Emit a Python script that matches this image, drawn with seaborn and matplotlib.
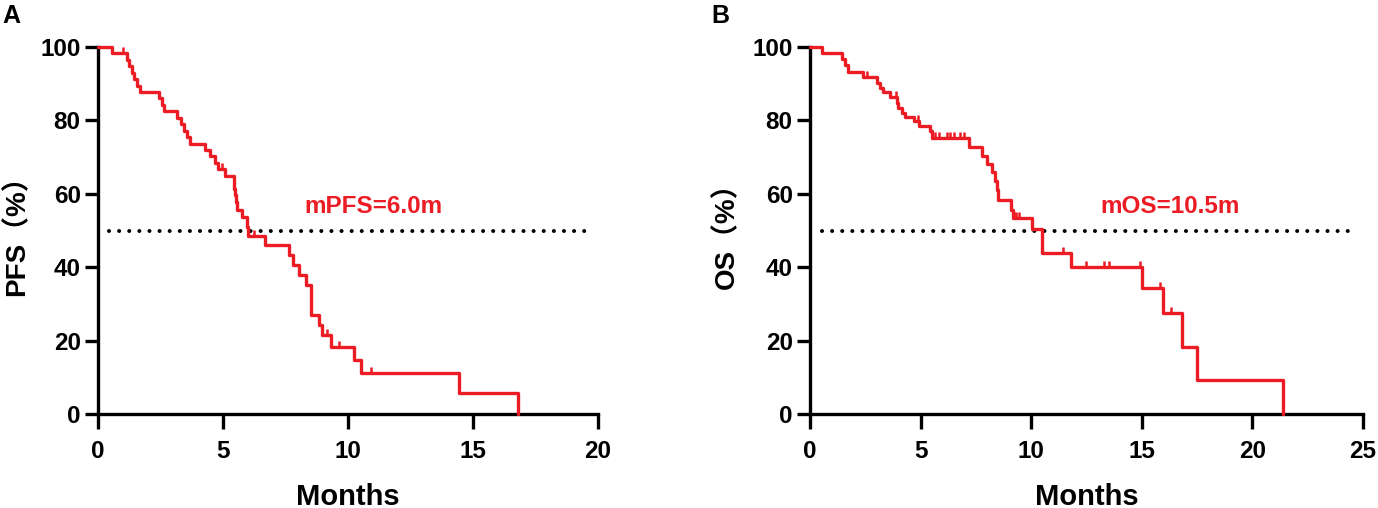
import numpy as np
import pandas as pd
import matplotlib
matplotlib.use('agg')
import matplotlib.pyplot as plt
import seaborn as sns

# Kaplan-Meier steps (months, % surviving after the event)
pfs_time = [0, 0.55, 1.15, 1.25, 1.35, 1.45, 1.55, 1.68, 2.42, 2.55, 2.65, 3.15, 3.30, 3.45,
            3.55, 3.69, 4.29, 4.49, 4.69, 4.80, 5.09, 5.42, 5.47, 5.52, 5.56, 5.75, 5.96, 6.00,
            6.69, 7.63, 7.80, 8.03, 8.30, 8.50, 8.83, 8.97, 9.30, 10.23, 10.50, 14.44, 16.80]
pfs_surv = [100, 98.3, 96.5, 94.7, 93.0, 91.2, 89.5, 87.7, 86.0, 84.2, 82.5, 80.7, 78.9, 77.2,
            75.4, 73.7, 71.9, 70.2, 68.4, 66.7, 64.9, 61.4, 59.6, 57.9, 55.6, 53.6, 51.0, 48.5,
            46.0, 43.3, 40.6, 37.9, 35.1, 27.0, 24.3, 21.5, 18.3, 14.7, 11.1, 5.6, 0]
pfs_censor = [1.01, 4.96, 6.23, 9.16, 9.63, 10.90]

os_time = [0, 0.53, 1.43, 1.58, 1.70, 2.41, 3.02, 3.17, 3.32, 3.62, 3.92, 4.00, 4.15, 4.30,
           4.68, 4.95, 5.43, 5.51, 7.20, 7.76, 7.99, 8.21, 8.36, 8.45, 8.52, 9.10, 9.16,
           10.03, 10.48, 11.79, 15.01, 15.94, 16.80, 17.50, 21.40]
os_surv = [100, 98.3, 96.6, 95.0, 93.3, 91.7, 90.1, 88.9, 87.8, 86.5, 84.8, 83.3, 81.9, 81.0,
           79.8, 78.5, 77.0, 75.1, 72.8, 70.2, 68.2, 66.0, 63.5, 60.9, 58.3, 55.6, 53.3,
           50.4, 43.9, 40.1, 34.4, 27.5, 18.3, 9.2, 0]
os_censor = [2.56, 3.89, 4.90, 5.66, 5.85, 6.18, 6.33, 6.49, 6.79, 6.94, 9.22, 9.32, 9.45,
             11.46, 12.49, 13.27, 13.50, 14.93, 15.84, 16.32]

RED = '#ec1c24'

sns.set_theme(style='ticks')
plt.rcParams['font.family'] = ['Liberation Sans', 'Noto Sans CJK SC', 'DejaVu Sans']
plt.rcParams['font.weight'] = 'bold'
plt.rcParams['axes.labelweight'] = 'bold'
for key in ('text.color', 'axes.labelcolor', 'xtick.color', 'ytick.color'):
    plt.rcParams[key] = 'black'

fig = plt.figure(figsize=(13.78, 5.08), dpi=100)
ax1 = fig.add_axes([98 / 1378, 94 / 508, 500 / 1378, 367 / 508])
ax2 = fig.add_axes([810 / 1378, 94 / 508, 553 / 1378, 367 / 508])


def km_panel(ax, t, s, cens, xmax, ref_span, label, label_x, ylab, ylab_x):
    df = pd.DataFrame({'t': t, 's': s})
    sns.lineplot(data=df, x='t', y='s', drawstyle='steps-post', estimator=None,
                 color=RED, lw=2.4, ax=ax, clip_on=False, zorder=3)
    idx = np.searchsorted(t, cens, side='right') - 1
    cy = np.asarray(s)[idx]
    sns.scatterplot(x=cens, y=cy, marker=[(0, 0), (0, 1)], s=80, color=RED,
                    edgecolor=RED, linewidth=1.8, ax=ax, clip_on=False, zorder=3)
    ax.plot(ref_span, [50, 50], color='black', lw=2.9, ls=(0, (0.01, 2.5)),
            dash_capstyle='round')
    ax.text(label_x, 56.5, label, color=RED, fontsize=17.5, fontweight='bold',
            ha='center', va='center')
    ax.set_xlim(0, xmax)
    ax.set_ylim(0, 100)
    ax.set_xticks(range(0, xmax + 1, 5))
    ax.set_yticks(range(0, 101, 20))
    sns.despine(ax=ax)
    for sp in ('left', 'bottom'):
        ax.spines[sp].set_linewidth(2.4)
        ax.spines[sp].set_color('black')
    ax.tick_params(width=2.4, labelsize=17.5, colors='black')
    ax.tick_params(axis='x', length=11, pad=8)
    ax.tick_params(axis='y', length=9.5, pad=3)
    ax.set_xlabel('Months', fontsize=21, fontweight='bold')
    ax.set_ylabel(ylab, fontsize=20, fontweight='bold')
    ax.xaxis.set_label_coords(0.5, -0.225)
    ax.xaxis.label.set_va('center')
    ax.yaxis.set_label_coords(ylab_x, 0.505)
    ax.yaxis.label.set_va('center')


km_panel(ax1, pfs_time, pfs_surv, pfs_censor, 20, [0.45, 19.6], 'mPFS=6.0m', 11.0,
         'PFS（%）', -0.162)
km_panel(ax2, os_time, os_surv, os_censor, 25, [0.55, 24.55], 'mOS=10.5m', 16.3,
         'OS（%）', -0.150)

fig.text(2 / 1378, 1 - 4 / 508, 'A', fontsize=18, fontweight='bold', ha='left', va='top')
fig.text(711 / 1378, 1 - 4 / 508, 'B', fontsize=18, fontweight='bold', ha='left', va='top')

fig.savefig('out.png', dpi=100)
